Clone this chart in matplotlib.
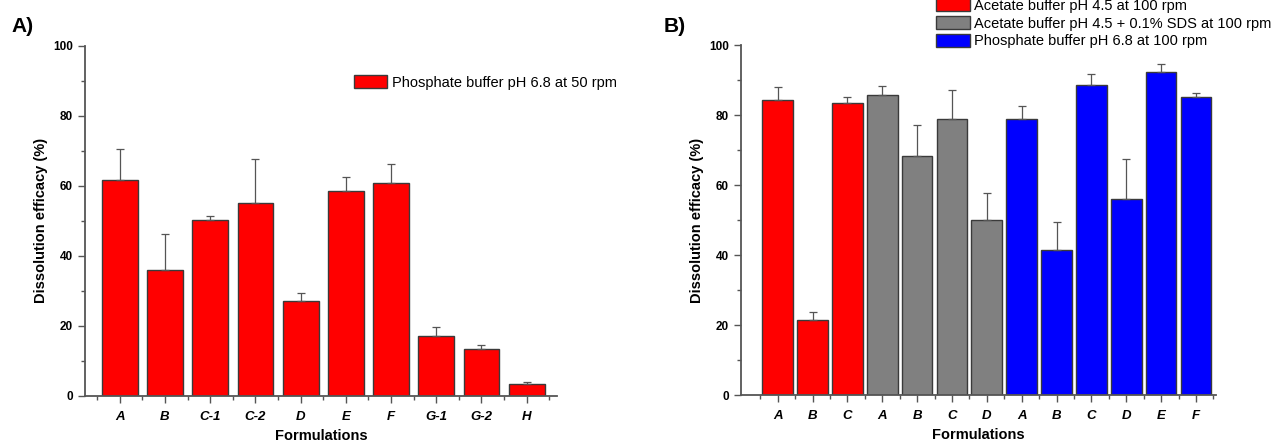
import numpy as np
import matplotlib
matplotlib.use("Agg")
import matplotlib.pyplot as plt
from matplotlib.ticker import MultipleLocator, FixedLocator

plt.rcParams['font.family'] = ['Liberation Sans', 'DejaVu Sans']

# Panel A data
labels_a = ['A', 'B', 'C-1', 'C-2', 'D', 'E', 'F', 'G-1', 'G-2', 'H']
values_a = [61.6, 36.0, 50.3, 55.2, 27.1, 58.5, 60.7, 17.0, 13.4, 3.3]
errors_a = [9.0, 10.1, 1.0, 12.3, 2.2, 3.9, 5.5, 2.6, 1.0, 0.6]
legend_a = 'Phosphate buffer pH 6.8 at 50 rpm'

# Panel B data
labels_acetate = ['A', 'B', 'C']
values_acetate = [84.3, 21.4, 83.6]
errors_acetate = [3.8, 2.2, 1.5]
labels_sds = ['A', 'B', 'C', 'D']
values_sds = [85.7, 68.3, 78.9, 50.0]
errors_sds = [2.6, 8.8, 8.4, 7.7]
labels_phos = ['A', 'B', 'C', 'D', 'E', 'F']
values_phos = [78.9, 41.5, 88.6, 56.1, 92.2, 85.1]
errors_phos = [3.7, 8.0, 3.3, 11.4, 2.3, 1.1]
legend_b = ['Acetate buffer pH 4.5 at 100 rpm',
            'Acetate buffer pH 4.5 + 0.1% SDS at 100 rpm',
            'Phosphate buffer pH 6.8 at 100 rpm']

edge = '#3a3a3a'
err_kw = dict(ecolor='#555555', elinewidth=0.9, capsize=3, capthick=0.9)

fig = plt.figure(figsize=(12.79, 4.43), dpi=100)
ax1 = fig.add_axes([0.0668, 0.1068, 0.4355 - 0.0668, 0.8968 - 0.1068])
ax2 = fig.add_axes([0.5797, 0.1083, 0.9506 - 0.5797, 0.898 - 0.1083])


def style(ax, n):
    for s in ['top', 'right']:
        ax.spines[s].set_visible(False)
    for s in ['left', 'bottom']:
        ax.spines[s].set_color('#555555')
        ax.spines[s].set_linewidth(1.3)
    ax.set_ylim(0, 100)
    ax.yaxis.set_major_locator(MultipleLocator(20))
    ax.yaxis.set_minor_locator(MultipleLocator(10))
    ax.xaxis.set_minor_locator(FixedLocator(np.arange(n + 1) - 0.5))
    ax.tick_params(which='major', direction='out', length=5, width=1, color='#555555')
    ax.tick_params(which='minor', direction='out', length=3, width=1, color='#555555')
    ax.tick_params(axis='y', labelsize=8.5, pad=4)
    ax.tick_params(axis='x', labelsize=9.5, pad=6)
    for t in ax.get_yticklabels():
        t.set_fontweight('bold')
    for t in ax.get_xticklabels():
        t.set_fontweight('bold')
        t.set_fontstyle('italic')
    ax.set_ylabel('Dissolution efficacy (%)', fontsize=10.5, fontweight='bold', labelpad=4)
    ax.set_xlabel('Formulations', fontsize=10.5, fontweight='bold', labelpad=4)


# Panel A
x_a = np.arange(len(labels_a))
ax1.bar(x_a, values_a, width=0.79, color='#ff0000', edgecolor=edge, linewidth=1,
        yerr=[np.zeros(len(errors_a)), errors_a], error_kw=err_kw, label=legend_a, zorder=2)
ax1.set_xticks(x_a)
ax1.set_xticklabels(labels_a)
ax1.set_xlim(-0.76, len(labels_a) - 1 + 0.67)
style(ax1, len(labels_a))
ax1.legend(loc='center left', bbox_to_anchor=(0.569, 0.895), frameon=False, fontsize=10.5,
           borderpad=0, borderaxespad=0, handlelength=2.3, handleheight=1.0, handletextpad=0.3)

# Panel B
groups = [(labels_acetate, values_acetate, errors_acetate, '#ff0000'),
          (labels_sds, values_sds, errors_sds, '#808080'),
          (labels_phos, values_phos, errors_phos, '#0000ff')]
all_labels = []
start = 0
for (lab, val, err, col), name in zip(groups, legend_b):
    x = np.arange(start, start + len(val))
    ax2.bar(x, val, width=0.88, color=col, edgecolor=edge, linewidth=1,
            yerr=[np.zeros(len(err)), err], error_kw=err_kw, label=name, zorder=2)
    all_labels += lab
    start += len(val)
x_b = np.arange(len(all_labels))
ax2.set_xticks(x_b)
ax2.set_xticklabels(all_labels)
ax2.set_xlim(-1.04, len(all_labels) - 1 + 0.57)
style(ax2, len(all_labels))
h, l = ax2.get_legend_handles_labels()
fig.legend(h, l, loc='center left', bbox_to_anchor=(0.7318, 1 - 23.3 / 443), frameon=False,
           fontsize=10.5, borderpad=0, borderaxespad=0, handlelength=2.3, handleheight=1.0,
           handletextpad=0.3, labelspacing=0.22)

fig.text(0.009, 0.94, 'A)', fontsize=15, fontweight='bold', va='center', ha='left')
fig.text(0.519, 0.94, 'B)', fontsize=15, fontweight='bold', va='center', ha='left')

fig.savefig('out.png', dpi=100)
